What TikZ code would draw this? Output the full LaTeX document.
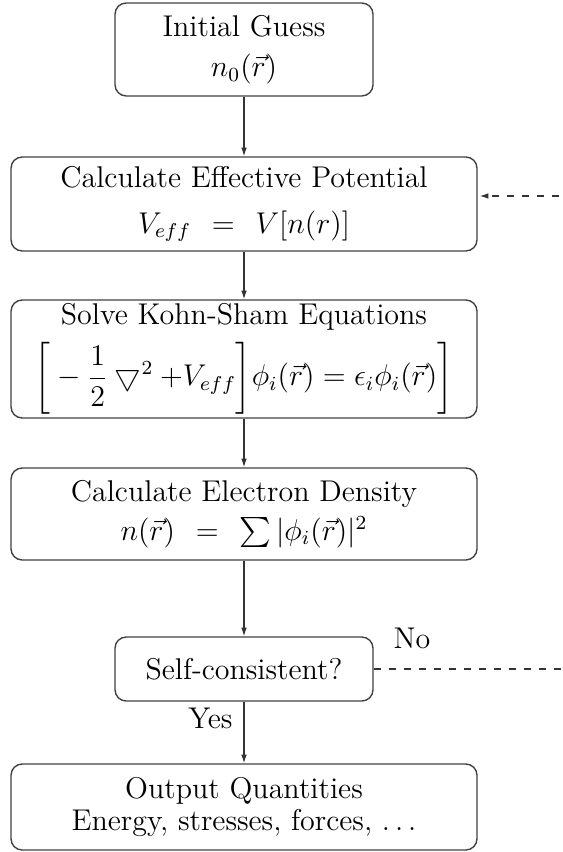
\documentclass[tikz,border=0pt]{standalone}
\usepackage{amsmath}
\usetikzlibrary{arrows.meta,calc}
\begin{document}
\begin{tikzpicture}[x=0.4pt,y=-0.4pt,
  every node/.style={font=\fontsize{12}{14.5}\selectfont},
  box/.style={draw=black!75, line width=0.55pt, rounded corners=4.5pt, align=center, inner sep=0pt},
  narrowbox/.style={box, minimum width=258*0.4pt},
  widebox/.style={box, minimum width=466*0.4pt},
  flow/.style={draw=black!80, line width=0.5pt, -{Latex[length=3.5pt,width=2.3pt]}},
  loopback/.style={flow, dashed},
  lbl/.style={inner sep=0pt, anchor=base}]
\useasboundingbox (0,0) rectangle (562,852);
\node[narrowbox, minimum height=93*0.4pt] (B1) at (244,49.5)
  {Initial Guess\\[1.7pt] $n_0(\vec{r})$};
\node[widebox, minimum height=94*0.4pt] (B2) at (244,204)
  {Calculate Effective Potential\\[3.7pt] $V_{eff}\mathrel{\hspace{5pt}=\hspace{5pt}}V[n(r)]$};
\node[widebox, minimum height=118*0.4pt] (B3) at (244,359)
  {Solve Kohn-Sham Equations\\[3.7pt] $\bigg[-\dfrac{1}{2}\bigtriangledown^2+V_{eff}\bigg]\phi_i(\vec{r})=\epsilon_i\phi_i(\vec{r})\bigg]$};
\node[widebox, minimum height=92*0.4pt] (B4) at (244,514)
  {Calculate Electron Density\\[0.9pt] $n(\vec{r})\mathrel{\hspace{5pt}=\hspace{5pt}}\sum|\phi_i(\vec{r})|^2$};
\node[narrowbox, minimum height=64*0.4pt] (B5) at (244,669)
  {Self-consistent?};
\node[widebox, minimum height=86*0.4pt] (B6) at (244,807)
  {Output Quantities\\[-1.9pt] Energy, stresses, forces, $\ldots$};
\draw[flow] (B1) -- (B2);
\draw[flow] (B2) -- (B3);
\draw[flow] (B3) -- (B4);
\draw[flow] (B4) -- (B5);
\draw[flow] (B5) -- node[pos=0.27, left=1pt] (yes) {Yes} (B6);
\coordinate (in2) at ($(B2.east)+(2,-8)$);
\coordinate (far) at (620,669);
\draw[loopback] (B5.east) -- (far) |- (in2);
\node[lbl] (no) at (412,648) {No};
\end{tikzpicture}
\end{document}
